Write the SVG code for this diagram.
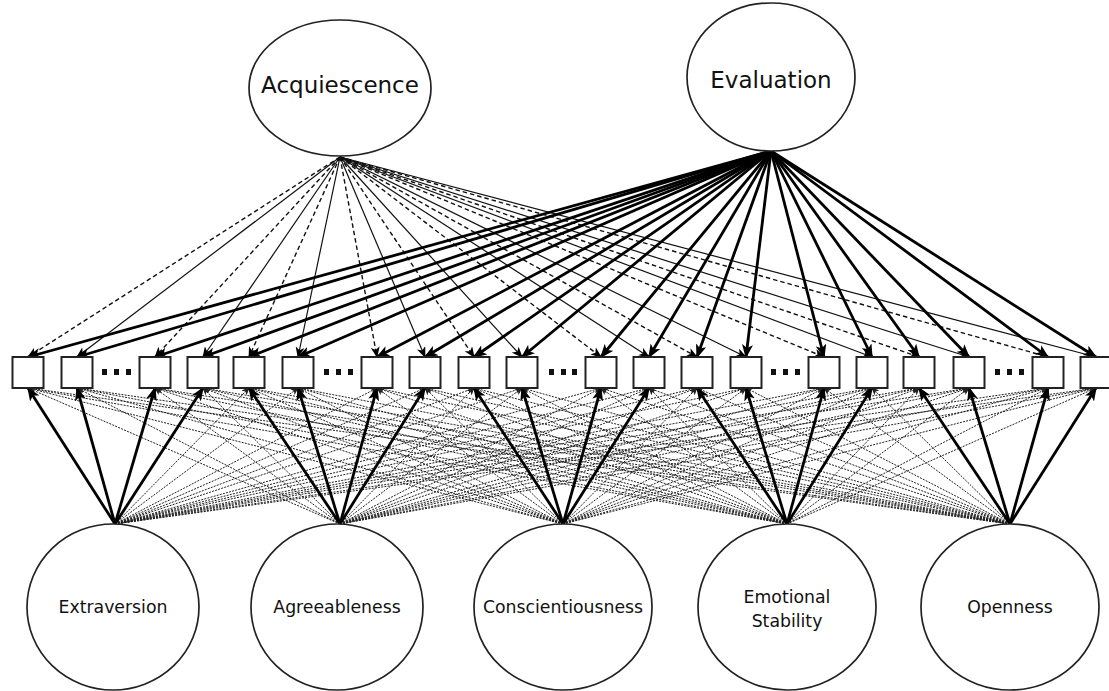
<svg xmlns="http://www.w3.org/2000/svg" width="1109" height="691" viewBox="0 0 1109 691">
<style>
  .lat { fill: #fff; stroke: #222; stroke-width: 1.7; }
  .box { fill: #fff; stroke: #222; stroke-width: 2; }
  .dot { fill: #111; }
  .big { font-family: "DejaVu Sans", Verdana, sans-serif; font-size: 23px; fill: #111; text-anchor: middle; }
  .small { font-family: "DejaVu Sans", Verdana, sans-serif; font-size: 17.3px; fill: #111; text-anchor: middle; }
  .thick { stroke: #000; stroke-width: 2.8; fill: none; marker-end: url(#ahThick); }
  .acqd { stroke: #111; stroke-width: 1.4; stroke-dasharray: 4.5 3; fill: none; marker-end: url(#ahThin); }
  .acqs { stroke: #111; stroke-width: 1.2; fill: none; marker-end: url(#ahThin); }
  .cross { stroke: #222; stroke-width: 1; stroke-dasharray: 2 1.2; fill: none; marker-end: url(#ahDot); }
</style>
<defs>
  <marker id="ahThick" markerUnits="userSpaceOnUse" markerWidth="14" markerHeight="11" viewBox="0 0 14 11" refX="12.5" refY="5.5" orient="auto">
    <path d="M0,0 L14,5.5 L0,11 L3.5,5.5 z" fill="#000"/>
  </marker>
  <marker id="ahThin" markerUnits="userSpaceOnUse" markerWidth="11" markerHeight="9" viewBox="0 0 11 9" refX="10" refY="4.5" orient="auto">
    <path d="M0,0 L11,4.5 L0,9 L3,4.5 z" fill="#000"/>
  </marker>
  <marker id="ahDot" markerUnits="userSpaceOnUse" markerWidth="8" markerHeight="7" viewBox="0 0 8 7" refX="7" refY="3.5" orient="auto">
    <path d="M0,0 L8,3.5 L0,7 L2,3.5 z" fill="#222"/>
  </marker>
</defs>
<rect width="1109" height="691" fill="#fff"/>

<g id="connectors">
  <g id="cross-loadings">
    <line class="cross" x1="115" y1="524" x2="249" y2="388"/>
    <line class="cross" x1="115" y1="524" x2="298" y2="388"/>
    <line class="cross" x1="115" y1="524" x2="377" y2="388"/>
    <line class="cross" x1="115" y1="524" x2="425" y2="388"/>
    <line class="cross" x1="115" y1="524" x2="474" y2="388"/>
    <line class="cross" x1="115" y1="524" x2="522" y2="388"/>
    <line class="cross" x1="115" y1="524" x2="601" y2="388"/>
    <line class="cross" x1="115" y1="524" x2="649" y2="388"/>
    <line class="cross" x1="115" y1="524" x2="697" y2="388"/>
    <line class="cross" x1="115" y1="524" x2="746" y2="388"/>
    <line class="cross" x1="115" y1="524" x2="824" y2="388"/>
    <line class="cross" x1="115" y1="524" x2="872" y2="388"/>
    <line class="cross" x1="115" y1="524" x2="919" y2="388"/>
    <line class="cross" x1="115" y1="524" x2="969" y2="388"/>
    <line class="cross" x1="115" y1="524" x2="1048" y2="388"/>
    <line class="cross" x1="115" y1="524" x2="1096" y2="388"/>
    <line class="cross" x1="340" y1="524" x2="28" y2="388"/>
    <line class="cross" x1="340" y1="524" x2="77" y2="388"/>
    <line class="cross" x1="340" y1="524" x2="155" y2="388"/>
    <line class="cross" x1="340" y1="524" x2="203" y2="388"/>
    <line class="cross" x1="340" y1="524" x2="474" y2="388"/>
    <line class="cross" x1="340" y1="524" x2="522" y2="388"/>
    <line class="cross" x1="340" y1="524" x2="601" y2="388"/>
    <line class="cross" x1="340" y1="524" x2="649" y2="388"/>
    <line class="cross" x1="340" y1="524" x2="697" y2="388"/>
    <line class="cross" x1="340" y1="524" x2="746" y2="388"/>
    <line class="cross" x1="340" y1="524" x2="824" y2="388"/>
    <line class="cross" x1="340" y1="524" x2="872" y2="388"/>
    <line class="cross" x1="340" y1="524" x2="919" y2="388"/>
    <line class="cross" x1="340" y1="524" x2="969" y2="388"/>
    <line class="cross" x1="340" y1="524" x2="1048" y2="388"/>
    <line class="cross" x1="340" y1="524" x2="1096" y2="388"/>
    <line class="cross" x1="563" y1="524" x2="28" y2="388"/>
    <line class="cross" x1="563" y1="524" x2="77" y2="388"/>
    <line class="cross" x1="563" y1="524" x2="155" y2="388"/>
    <line class="cross" x1="563" y1="524" x2="203" y2="388"/>
    <line class="cross" x1="563" y1="524" x2="249" y2="388"/>
    <line class="cross" x1="563" y1="524" x2="298" y2="388"/>
    <line class="cross" x1="563" y1="524" x2="377" y2="388"/>
    <line class="cross" x1="563" y1="524" x2="425" y2="388"/>
    <line class="cross" x1="563" y1="524" x2="697" y2="388"/>
    <line class="cross" x1="563" y1="524" x2="746" y2="388"/>
    <line class="cross" x1="563" y1="524" x2="824" y2="388"/>
    <line class="cross" x1="563" y1="524" x2="872" y2="388"/>
    <line class="cross" x1="563" y1="524" x2="919" y2="388"/>
    <line class="cross" x1="563" y1="524" x2="969" y2="388"/>
    <line class="cross" x1="563" y1="524" x2="1048" y2="388"/>
    <line class="cross" x1="563" y1="524" x2="1096" y2="388"/>
    <line class="cross" x1="787" y1="524" x2="28" y2="388"/>
    <line class="cross" x1="787" y1="524" x2="77" y2="388"/>
    <line class="cross" x1="787" y1="524" x2="155" y2="388"/>
    <line class="cross" x1="787" y1="524" x2="203" y2="388"/>
    <line class="cross" x1="787" y1="524" x2="249" y2="388"/>
    <line class="cross" x1="787" y1="524" x2="298" y2="388"/>
    <line class="cross" x1="787" y1="524" x2="377" y2="388"/>
    <line class="cross" x1="787" y1="524" x2="425" y2="388"/>
    <line class="cross" x1="787" y1="524" x2="474" y2="388"/>
    <line class="cross" x1="787" y1="524" x2="522" y2="388"/>
    <line class="cross" x1="787" y1="524" x2="601" y2="388"/>
    <line class="cross" x1="787" y1="524" x2="649" y2="388"/>
    <line class="cross" x1="787" y1="524" x2="919" y2="388"/>
    <line class="cross" x1="787" y1="524" x2="969" y2="388"/>
    <line class="cross" x1="787" y1="524" x2="1048" y2="388"/>
    <line class="cross" x1="787" y1="524" x2="1096" y2="388"/>
    <line class="cross" x1="1010" y1="524" x2="28" y2="388"/>
    <line class="cross" x1="1010" y1="524" x2="77" y2="388"/>
    <line class="cross" x1="1010" y1="524" x2="155" y2="388"/>
    <line class="cross" x1="1010" y1="524" x2="203" y2="388"/>
    <line class="cross" x1="1010" y1="524" x2="249" y2="388"/>
    <line class="cross" x1="1010" y1="524" x2="298" y2="388"/>
    <line class="cross" x1="1010" y1="524" x2="377" y2="388"/>
    <line class="cross" x1="1010" y1="524" x2="425" y2="388"/>
    <line class="cross" x1="1010" y1="524" x2="474" y2="388"/>
    <line class="cross" x1="1010" y1="524" x2="522" y2="388"/>
    <line class="cross" x1="1010" y1="524" x2="601" y2="388"/>
    <line class="cross" x1="1010" y1="524" x2="649" y2="388"/>
    <line class="cross" x1="1010" y1="524" x2="697" y2="388"/>
    <line class="cross" x1="1010" y1="524" x2="746" y2="388"/>
    <line class="cross" x1="1010" y1="524" x2="824" y2="388"/>
    <line class="cross" x1="1010" y1="524" x2="872" y2="388"/>
  </g>
  <g id="trait-loadings">
    <line class="thick" x1="115" y1="524" x2="28" y2="388"/>
    <line class="thick" x1="115" y1="524" x2="77" y2="388"/>
    <line class="thick" x1="115" y1="524" x2="155" y2="388"/>
    <line class="thick" x1="115" y1="524" x2="203" y2="388"/>
    <line class="thick" x1="340" y1="524" x2="249" y2="388"/>
    <line class="thick" x1="340" y1="524" x2="298" y2="388"/>
    <line class="thick" x1="340" y1="524" x2="377" y2="388"/>
    <line class="thick" x1="340" y1="524" x2="425" y2="388"/>
    <line class="thick" x1="563" y1="524" x2="474" y2="388"/>
    <line class="thick" x1="563" y1="524" x2="522" y2="388"/>
    <line class="thick" x1="563" y1="524" x2="601" y2="388"/>
    <line class="thick" x1="563" y1="524" x2="649" y2="388"/>
    <line class="thick" x1="787" y1="524" x2="697" y2="388"/>
    <line class="thick" x1="787" y1="524" x2="746" y2="388"/>
    <line class="thick" x1="787" y1="524" x2="824" y2="388"/>
    <line class="thick" x1="787" y1="524" x2="872" y2="388"/>
    <line class="thick" x1="1010" y1="524" x2="919" y2="388"/>
    <line class="thick" x1="1010" y1="524" x2="969" y2="388"/>
    <line class="thick" x1="1010" y1="524" x2="1048" y2="388"/>
    <line class="thick" x1="1010" y1="524" x2="1096" y2="388"/>
  </g>
  <g id="acquiescence-loadings">
    <line class="acqd" x1="340" y1="157" x2="28" y2="357"/>
    <line class="acqs" x1="340" y1="157" x2="77" y2="357"/>
    <line class="acqd" x1="340" y1="157" x2="155" y2="357"/>
    <line class="acqs" x1="340" y1="157" x2="203" y2="357"/>
    <line class="acqd" x1="340" y1="157" x2="249" y2="357"/>
    <line class="acqs" x1="340" y1="157" x2="298" y2="357"/>
    <line class="acqd" x1="340" y1="157" x2="377" y2="357"/>
    <line class="acqs" x1="340" y1="157" x2="425" y2="357"/>
    <line class="acqd" x1="340" y1="157" x2="474" y2="357"/>
    <line class="acqs" x1="340" y1="157" x2="522" y2="357"/>
    <line class="acqd" x1="340" y1="157" x2="601" y2="357"/>
    <line class="acqs" x1="340" y1="157" x2="649" y2="357"/>
    <line class="acqd" x1="340" y1="157" x2="697" y2="357"/>
    <line class="acqs" x1="340" y1="157" x2="746" y2="357"/>
    <line class="acqd" x1="340" y1="157" x2="824" y2="357"/>
    <line class="acqs" x1="340" y1="157" x2="872" y2="357"/>
    <line class="acqd" x1="340" y1="157" x2="919" y2="357"/>
    <line class="acqs" x1="340" y1="157" x2="969" y2="357"/>
    <line class="acqd" x1="340" y1="157" x2="1048" y2="357"/>
    <line class="acqs" x1="340" y1="157" x2="1096" y2="357"/>
  </g>
  <g id="evaluation-loadings">
    <line class="thick" x1="771" y1="151" x2="28" y2="357"/>
    <line class="thick" x1="771" y1="151" x2="77" y2="357"/>
    <line class="thick" x1="771" y1="151" x2="155" y2="357"/>
    <line class="thick" x1="771" y1="151" x2="203" y2="357"/>
    <line class="thick" x1="771" y1="151" x2="249" y2="357"/>
    <line class="thick" x1="771" y1="151" x2="298" y2="357"/>
    <line class="thick" x1="771" y1="151" x2="377" y2="357"/>
    <line class="thick" x1="771" y1="151" x2="425" y2="357"/>
    <line class="thick" x1="771" y1="151" x2="474" y2="357"/>
    <line class="thick" x1="771" y1="151" x2="522" y2="357"/>
    <line class="thick" x1="771" y1="151" x2="601" y2="357"/>
    <line class="thick" x1="771" y1="151" x2="649" y2="357"/>
    <line class="thick" x1="771" y1="151" x2="697" y2="357"/>
    <line class="thick" x1="771" y1="151" x2="746" y2="357"/>
    <line class="thick" x1="771" y1="151" x2="824" y2="357"/>
    <line class="thick" x1="771" y1="151" x2="872" y2="357"/>
    <line class="thick" x1="771" y1="151" x2="919" y2="357"/>
    <line class="thick" x1="771" y1="151" x2="969" y2="357"/>
    <line class="thick" x1="771" y1="151" x2="1048" y2="357"/>
    <line class="thick" x1="771" y1="151" x2="1096" y2="357"/>
  </g>
</g>

<g id="acquiescence"><ellipse class="lat" cx="340" cy="88" rx="91" ry="68"/><text class="big" x="340" y="93">Acquiescence</text></g>
<g id="evaluation"><ellipse class="lat" cx="771" cy="77" rx="84" ry="74"/><text class="big" x="771" y="88">Evaluation</text></g>

<g id="items">
  <rect class="box" x="12.5" y="357" width="31" height="31"/>
  <rect class="box" x="61.5" y="357" width="31" height="31"/>
  <rect class="box" x="139.5" y="357" width="31" height="31"/>
  <rect class="box" x="187.5" y="357" width="31" height="31"/>
  <rect class="box" x="233.5" y="357" width="31" height="31"/>
  <rect class="box" x="282.5" y="357" width="31" height="31"/>
  <rect class="box" x="361.5" y="357" width="31" height="31"/>
  <rect class="box" x="409.5" y="357" width="31" height="31"/>
  <rect class="box" x="458.5" y="357" width="31" height="31"/>
  <rect class="box" x="506.5" y="357" width="31" height="31"/>
  <rect class="box" x="585.5" y="357" width="31" height="31"/>
  <rect class="box" x="633.5" y="357" width="31" height="31"/>
  <rect class="box" x="681.5" y="357" width="31" height="31"/>
  <rect class="box" x="730.5" y="357" width="31" height="31"/>
  <rect class="box" x="808.5" y="357" width="31" height="31"/>
  <rect class="box" x="856.5" y="357" width="31" height="31"/>
  <rect class="box" x="903.5" y="357" width="31" height="31"/>
  <rect class="box" x="953.5" y="357" width="31" height="31"/>
  <rect class="box" x="1032.5" y="357" width="31" height="31"/>
  <rect class="box" x="1080.5" y="357" width="31" height="31"/>
</g>
<g id="ellipsis-dots">
  <rect class="dot" x="102" y="369" width="5" height="6"/><rect class="dot" x="114" y="369" width="5" height="6"/><rect class="dot" x="126" y="369" width="5" height="6"/>
  <rect class="dot" x="324" y="369" width="5" height="6"/><rect class="dot" x="336" y="369" width="5" height="6"/><rect class="dot" x="348" y="369" width="5" height="6"/>
  <rect class="dot" x="549" y="369" width="5" height="6"/><rect class="dot" x="561" y="369" width="5" height="6"/><rect class="dot" x="572" y="369" width="5" height="6"/>
  <rect class="dot" x="771" y="369" width="5" height="6"/><rect class="dot" x="783" y="369" width="5" height="6"/><rect class="dot" x="795" y="369" width="5" height="6"/>
  <rect class="dot" x="995" y="369" width="5" height="6"/><rect class="dot" x="1007" y="369" width="5" height="6"/><rect class="dot" x="1019" y="369" width="5" height="6"/>
</g>

<g id="extraversion"><ellipse class="lat" cx="113" cy="607" rx="86" ry="83"/><text class="small" x="113" y="613">Extraversion</text></g>
<g id="agreeableness"><ellipse class="lat" cx="337" cy="607" rx="86" ry="83"/><text class="small" x="337" y="613">Agreeableness</text></g>
<g id="conscientiousness"><ellipse class="lat" cx="563" cy="607" rx="89" ry="83"/><text class="small" x="563" y="613">Conscientiousness</text></g>
<g id="emotional-stability"><ellipse class="lat" cx="787" cy="607" rx="89" ry="83"/><text class="small" x="787" y="603">Emotional</text><text class="small" x="787" y="627">Stability</text></g>
<g id="openness"><ellipse class="lat" cx="1010" cy="607" rx="89" ry="83"/><text class="small" x="1010" y="613">Openness</text></g>
</svg>
